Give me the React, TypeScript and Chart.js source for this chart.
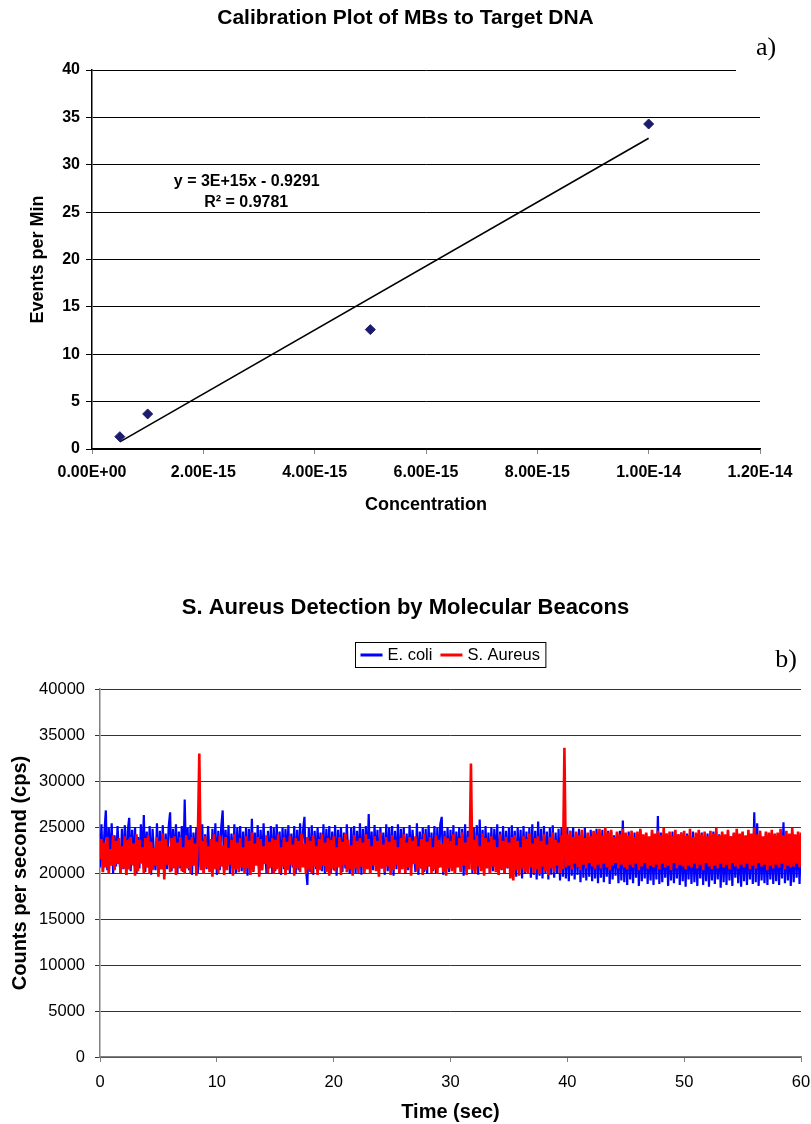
import React, { useEffect, useRef } from "react";
import { Chart, registerables } from "chart.js";

Chart.register(...registerables);

// ---------- Chart a) Calibration plot ----------
const CONCENTRATION = [5e-16, 1e-15, 5e-15, 1e-14];
const EVENTS_PER_MIN = [1.3, 3.7, 12.6, 34.3];
const TREND_X = [5e-16, 1e-14];
const TREND_Y = [0.75, 32.8];
const CONC_TICK_LABELS = ["0.00E+00", "2.00E-15", "4.00E-15", "6.00E-15", "8.00E-15", "1.00E-14", "1.20E-14"];
const TREND_EQUATION = "y = 3E+15x - 0.9291";
const TREND_R2 = "R\u00B2 = 0.9781";

// ---------- Chart b) Detection time trace ----------
const SAMPLE_INTERVAL_SEC = 0.125;
const SERIES_NAMES = ["E. coli", "S. Aureus"];
const E_COLI = [
  20600, 25300, 20100, 24400, 26800, 20300, 24900, 21200, 25400, 19900, 24100, 20700, 25100, 22300, 20000, 24800, 20400, 25200, 19800, 24600,
  26000, 20200, 24700, 20800, 25000, 19900, 23900, 20500, 25300, 21000, 26300, 20100, 24500, 20600, 25100, 19800, 24800, 22100, 20300, 25400,
  20000, 24600, 20700, 25200, 19700, 24300, 20400, 25000, 26600, 20200, 24800, 21100, 25300, 19900, 24500, 20500, 25100, 20100, 28000, 20600,
  24900, 20300, 25200, 19800, 24400, 21000, 25000, 20000, 24700, 20600, 25300, 19900, 24200, 20400, 25100, 22000, 20200, 24800, 20700, 25400,
  19800, 24600, 20300, 25000, 26800, 20100, 24700, 20800, 25200, 19900, 24300, 20500, 25300, 20000, 24900, 21200, 25100, 20200, 24500, 20600,
  25000, 19700, 24800, 20400, 25900, 20100, 24400, 20900, 25200, 19800, 24700, 20300, 25400, 22200, 20000, 24600, 20500, 25100, 19900, 24900,
  20200, 25300, 20700, 24500, 19800, 25000, 20400, 24800, 21100, 25200, 20000, 24300, 20600, 25100, 19900, 24700, 20300, 25400, 20800, 24600,
  26100, 20500, 18700, 24900, 20100, 25200, 19800, 24600, 20400, 25000, 21000, 24400, 20200, 25300, 19900, 24800, 20600, 25100, 20000, 24500,
  20300, 25200, 19700, 24700, 20800, 25000, 20100, 24400, 20500, 25300, 22000, 19900, 24900, 20400, 25100, 20000, 24600, 20700, 25400, 19800,
  24800, 20200, 25100, 20600, 26400, 19900, 24500, 20300, 25200, 21100, 24700, 20000, 25000, 20500, 24400, 19800, 25300, 20200, 24900, 20600,
  25100, 19700, 24600, 20400, 25300, 20000, 24800, 20900, 25000, 19900, 24300, 20300, 25200, 20600, 24700, 22100, 20100, 25400, 19800, 24500,
  20500, 25000, 20100, 24800, 19900, 25200, 20700, 24400, 20200, 25100, 20000, 24900, 20600, 25300, 26100, 19800, 24600, 20300, 25000, 20100,
  24700, 20500, 25200, 19900, 24500, 20800, 25000, 20200, 24800, 19700, 25300, 20400, 24600, 21000, 25100, 20000, 24900, 20300, 25200, 19800,
  25800, 20400, 24700, 20000, 25100, 20600, 24400, 19900, 25000, 20200, 24800, 20700, 25300, 19800, 24500, 20300, 25100, 20000, 24600, 20500,
  24900, 19500, 25200, 20100, 24600, 19600, 25000, 20300, 24700, 19400, 25100, 19900, 24500, 20200, 24900, 19500, 25300, 19800, 24600, 19300,
  25600, 19700, 24800, 19400, 25100, 20000, 24500, 19300, 24900, 19800, 25200, 19500, 24400, 19900, 24800, 19200, 25000, 19600, 24600, 19400,
  24900, 19100, 24600, 19700, 25000, 19300, 24400, 19800, 24800, 19000, 24500, 19500, 24900, 19200, 24300, 19600, 24700, 19100, 24500, 19400,
  24800, 18900, 24400, 19500, 24700, 19000, 24200, 19600, 24600, 18800, 24500, 19300, 24100, 19700, 24400, 18900, 24600, 19200, 25700, 19000,
  24300, 18700, 24500, 19300, 23900, 18900, 24400, 19500, 24100, 18600, 24600, 19100, 24000, 19400, 24300, 18800, 23800, 19200, 24500, 18700,
  24200, 19300, 26200, 18800, 24400, 19000, 23900, 19500, 24300, 18600, 24100, 19200, 24500, 18900, 23800, 19400, 24200, 18700, 24400, 19100,
  23900, 18500, 24300, 19300, 24000, 18800, 24500, 19000, 23800, 18600, 24200, 19400, 24400, 18700, 23900, 19100, 24300, 18500, 24100, 19200,
  24500, 18800, 23800, 19300, 24200, 18400, 24400, 19000, 23900, 18700, 24600, 19200, 24000, 18600, 24300, 19500, 23800, 18900, 24200, 18500,
  24400, 19100, 24000, 18700, 24300, 19300, 23900, 18800, 26600, 19000, 25400, 18600, 24200, 19200, 23800, 18900, 24400, 18700, 24100, 19300,
  23900, 18800, 24300, 19100, 24000, 18700, 24200, 19400, 25500, 18900, 24100, 19200, 23800, 18600, 24400, 19000, 24000, 19500, 24300, 18800,
  24000,
];
const S_AUREUS = [
  21500, 23700, 20100, 23300, 20600, 23900, 19900, 22600, 20800, 24100, 20300, 23500, 21000, 23800, 20000, 22900, 20500, 24000, 19800, 23600,
  20400, 23900, 20900, 23200, 19700, 24200, 20200, 23600, 21100, 22800, 20000, 23800, 20600, 24100, 19900, 23400, 20300, 22700, 20800, 23900,
  19600, 23500, 20400, 24300, 19300, 23700, 20900, 22900, 20100, 23800, 20500, 24000, 19800, 23300, 20700, 23900, 20200, 22800, 19900, 24100,
  20500, 23600, 20000, 23900, 20800, 23200, 19700, 23800, 33000, 20300, 23500, 19900, 24000, 20600, 22900, 20100, 23700, 19600, 24200, 20400,
  23400, 20000, 24100, 20700, 23000, 19800, 23900, 20300, 22700, 20900, 23600, 19700, 24200, 20400, 23300, 20100, 23800, 20600, 22800, 19900,
  24000, 20500, 23500, 19800, 24400, 20200, 23200, 20800, 23900, 19600, 23700, 20300, 22900, 21000, 24100, 20000, 23400, 20600, 23800, 19900,
  23600, 20400, 24200, 20000, 22800, 20700, 23900, 19800, 23400, 20300, 24000, 20900, 23100, 19700, 23800, 20500, 23500, 20100, 24300, 20600,
  23200, 19900, 23900, 20400, 23500, 20000, 24100, 20700, 22900, 19800, 23700, 20300, 24200, 20800, 23300, 20100, 23800, 19700, 23600, 20500,
  24000, 20200, 22800, 20600, 23900, 19800, 23400, 20900, 24300, 20100, 23600, 20400, 23000, 19700, 24100, 20500, 23500, 20000, 23800, 20700,
  23300, 20000, 24200, 20400, 23700, 19900, 22900, 20800, 24000, 20200, 23500, 19600, 24400, 20500, 23100, 20100, 23900, 20700, 23400, 19800,
  24100, 20300, 23600, 20900, 22800, 19900, 23800, 20400, 24200, 20000, 23300, 20600, 23900, 19700, 23500, 21000, 24000, 20200, 22900, 20500,
  23700, 19800, 24300, 20300, 23400, 20700, 23900, 20000, 22800, 20400, 24100, 19900, 23600, 20600, 23200, 20100, 24000, 19700, 23800, 20500,
  23500, 20200, 24200, 19900, 23000, 20600, 23800, 20100, 24400, 20800, 23300, 19800, 23900, 20400, 31900, 20300, 23600, 20000, 24100, 20700,
  22900, 20200, 24300, 19700, 23800, 20500, 23400, 19900, 24000, 20700, 23600, 20100, 22800, 19800, 24200, 20400, 23500, 20000, 23900, 20600,
  23300, 19400, 23900, 19200, 24100, 20300, 23500, 19700, 22800, 20500, 24000, 20100, 23700, 19900, 24300, 20600, 23200, 20000, 23800, 20400,
  24000, 19900, 23500, 20700, 24200, 20200, 23100, 19800, 23900, 20500, 24400, 20100, 23600, 20800, 23300, 20000, 24100, 20400, 33600, 20600,
  24200, 20800, 24600, 20400, 23900, 21000, 24500, 20600, 24100, 20300, 24700, 20900, 23800, 20500, 24400, 21100, 24000, 20700, 24600, 20400,
  24300, 20900, 24800, 20500, 24100, 21000, 25000, 20600, 24400, 20300, 24700, 20800, 23900, 21100, 24500, 20500, 24200, 20900, 24800, 20600,
  24400, 20400, 24100, 20900, 24600, 20600, 23900, 21000, 24500, 20300, 24800, 20700, 24200, 21100, 24400, 20500, 24000, 20800, 24700, 20600,
  24300, 20900, 24600, 20400, 24100, 21000, 24900, 20600, 24300, 20800, 24500, 20300, 24000, 21100, 24700, 20500, 24200, 20900, 24400, 20700,
  24600, 20400, 24100, 20800, 24800, 20600, 23900, 21000, 24400, 20500, 24700, 20900, 24200, 20300, 24500, 21100, 24000, 20700, 24600, 20400,
  24300, 20800, 24900, 20500, 24100, 21000, 24500, 20600, 24200, 20900, 24700, 20400, 24000, 21100, 24400, 20700, 24800, 20500, 24300, 20900,
  24500, 20600, 24100, 21000, 24700, 20400, 24300, 20800, 24900, 20500, 24200, 21100, 24600, 20700, 24000, 20900, 24500, 20300, 24400, 20800,
  24700, 20500, 24200, 20900, 24400, 20600, 24800, 21000, 24100, 20400, 24600, 20800, 24300, 20600, 24900, 20700, 24200, 21000, 24500, 20600,
  24400,
];
const SERIES_COLORS = ["#0000FF", "#FF0000"];

const SANS = '"Liberation Sans", Arial, Helvetica, sans-serif';
const SERIF = '"Liberation Serif", "Times New Roman", serif';

const toPoints = (vals: number[]) =>
  vals.map((v, i) => ({ x: i * SAMPLE_INTERVAL_SEC, y: v }));

const annotA = {
  id: "annotA",
  afterDraw(chart: any) {
    const { ctx, scales } = chart;
    const x = scales.x;
    const y = scales.y;
    ctx.save();
    ctx.fillStyle = "#ffffff";
    ctx.fillRect(736, 66, 30, 8);
    ctx.fillStyle = "#000";
    ctx.font = `26px ${SERIF}`;
    ctx.textAlign = "center";
    ctx.textBaseline = "middle";
    ctx.fillText("a)", 766, 48);
    ctx.font = `bold 16px ${SANS}`;
    ctx.fillText(TREND_EQUATION, x.getPixelForValue(2.78e-15), y.getPixelForValue(28.2));
    ctx.fillText(TREND_R2, x.getPixelForValue(2.77e-15), y.getPixelForValue(25.96));
    ctx.restore();
  },
};

const annotB = {
  id: "annotB",
  afterDraw(chart: any) {
    const { ctx, chartArea } = chart;
    ctx.save();
    ctx.font = `16.5px ${SANS}`;
    const w1 = ctx.measureText(SERIES_NAMES[0]).width;
    const w2 = ctx.measureText(SERIES_NAMES[1]).width;
    const total = 5 + 22 + 5 + w1 + 8 + 22 + 5 + w2 + 6;
    const cx = (chartArea.left + chartArea.right) / 2;
    const left = Math.round(cx - total / 2) + 0.5;
    const top = 82.5;
    const h = 25;
    ctx.fillStyle = "#fff";
    ctx.fillRect(left, top, total, h);
    ctx.strokeStyle = "#000";
    ctx.lineWidth = 1;
    ctx.strokeRect(left, top, total, h);
    const my = top + h / 2;
    let px = left + 5;
    ctx.textAlign = "left";
    ctx.textBaseline = "middle";
    [0, 1].forEach((k) => {
      ctx.strokeStyle = SERIES_COLORS[k];
      ctx.lineWidth = 3;
      ctx.beginPath();
      ctx.moveTo(px, my);
      ctx.lineTo(px + 22, my);
      ctx.stroke();
      px += 27;
      ctx.fillStyle = "#000";
      ctx.fillText(SERIES_NAMES[k], px, my + 0.5);
      px += (k === 0 ? w1 : w2) + 8;
    });
    ctx.font = `26px ${SERIF}`;
    ctx.textAlign = "center";
    ctx.fillText("b)", 786, 100);
    ctx.restore();
  },
};

export default function App() {
  const refA = useRef<HTMLCanvasElement>(null);
  const refB = useRef<HTMLCanvasElement>(null);

  useEffect(() => {
    const chartA = new Chart(refA.current as HTMLCanvasElement, {
      type: "scatter",
      data: {
        datasets: [
          {
            label: "Data",
            data: CONCENTRATION.map((c, i) => ({ x: c, y: EVENTS_PER_MIN[i] })),
            backgroundColor: "#1c1c6e",
            borderColor: "#1c1c6e",
            pointStyle: "rectRot",
            pointRadius: 5,
            order: 0,
          },
          {
            type: "line",
            label: "Linear trend",
            data: TREND_X.map((c, i) => ({ x: c, y: TREND_Y[i] })),
            borderColor: "#000",
            borderWidth: 1.6,
            pointRadius: 0,
            showLine: true,
            order: 1,
          } as any,
        ],
      },
      options: {
        animation: false,
        responsive: false,
        devicePixelRatio: 1,
        layout: { padding: 0 },
        plugins: {
          legend: { display: false },
          tooltip: { enabled: false },
          title: {
            display: true,
            text: "Calibration Plot of MBs to Target DNA",
            color: "#000",
            font: { family: SANS, size: 21, weight: "bold" },
            padding: { top: 6, bottom: 38.8 },
          },
        },
        scales: {
          x: {
            type: "linear",
            min: 0,
            max: 1.2e-14,
            ticks: {
              stepSize: 2e-15,
              color: "#000",
              font: { family: SANS, size: 16, weight: "bold" },
              padding: 9.4,
              maxRotation: 0,
              callback: (_v: any, i: number) => CONC_TICK_LABELS[i] ?? "",
            },
            grid: { drawOnChartArea: false, drawTicks: true, tickLength: 5, color: "#888" },
            border: { color: "#000", width: 1.5 },
            title: {
              display: true,
              text: "Concentration",
              color: "#000",
              font: { family: SANS, size: 18, weight: "bold" },
              padding: { top: 0, bottom: 24.2 },
            },
            afterFit: (s: any) => {
              s.height = 91;
              s.paddingRight = 51;
            },
          },
          y: {
            min: 0,
            max: 40,
            ticks: {
              stepSize: 5,
              color: "#000",
              font: { family: SANS, size: 16, weight: "bold" },
              padding: 6,
            },
            grid: { color: "#000", lineWidth: 1, tickLength: 6 },
            border: { color: "#000", width: 1.5 },
            title: {
              display: true,
              text: "Events per Min",
              color: "#000",
              font: { family: SANS, size: 18, weight: "bold" },
              padding: { top: 27.7, bottom: 0 },
            },
            afterFit: (s: any) => {
              s.width = 92;
            },
          },
        },
      },
      plugins: [annotA],
    } as any);

    const chartB = new Chart(refB.current as HTMLCanvasElement, {
      type: "line",
      data: {
        datasets: [
          {
            label: SERIES_NAMES[0],
            data: toPoints(E_COLI),
            borderColor: SERIES_COLORS[0],
            backgroundColor: SERIES_COLORS[0],
            borderWidth: 2.2,
            borderJoinStyle: "bevel",
            pointRadius: 0,
            tension: 0,
            order: 1,
          },
          {
            label: SERIES_NAMES[1],
            data: toPoints(S_AUREUS),
            borderColor: SERIES_COLORS[1],
            backgroundColor: SERIES_COLORS[1],
            borderWidth: 2.6,
            borderJoinStyle: "bevel",
            pointRadius: 0,
            tension: 0,
            order: 0,
          },
        ],
      },
      options: {
        animation: false,
        responsive: false,
        devicePixelRatio: 1,
        parsing: false,
        normalized: true,
        layout: { padding: 0 },
        plugins: {
          legend: { display: false },
          tooltip: { enabled: false },
          title: {
            display: true,
            text: "S. Aureus Detection by Molecular Beacons",
            color: "#000",
            font: { family: SANS, size: 22, weight: "bold" },
            padding: { top: 34.8, bottom: 67.8 },
          },
        },
        scales: {
          x: {
            type: "linear",
            min: 0,
            max: 60,
            ticks: {
              stepSize: 10,
              color: "#000",
              font: { family: SANS, size: 16.5 },
              padding: 11,
              maxRotation: 0,
            },
            grid: { drawOnChartArea: false, drawTicks: true, tickLength: 5, color: "#808080" },
            border: { color: "#808080", width: 1.5 },
            title: {
              display: true,
              text: "Time (sec)",
              color: "#000",
              font: { family: SANS, size: 20, weight: "bold" },
              padding: { top: 0, bottom: 0 },
            },
            afterFit: (s: any) => {
              s.height = 67;
              s.paddingRight = 10;
            },
          },
          y: {
            min: 0,
            max: 40000,
            ticks: {
              stepSize: 5000,
              color: "#000",
              font: { family: SANS, size: 16.5 },
              padding: 10,
              callback: (v: any) => String(v),
            },
            grid: { color: "#333", lineWidth: 1, tickLength: 5 },
            border: { color: "#808080", width: 1.5 },
            title: {
              display: true,
              text: "Counts per second (cps)",
              color: "#000",
              font: { family: SANS, size: 20, weight: "bold" },
              padding: { top: 8, bottom: 0 },
            },
            afterFit: (s: any) => {
              s.width = 100;
            },
          },
        },
      },
      plugins: [annotB],
    } as any);

    return () => {
      chartA.destroy();
      chartB.destroy();
    };
  }, []);

  return (
    <div style={{ position: "absolute", left: 0, top: 0, width: 811, height: 1124, background: "#fff" }}>
      <canvas ref={refA} width={811} height={540} style={{ position: "absolute", left: 0, top: 0 }} />
      <canvas ref={refB} width={811} height={564} style={{ position: "absolute", left: 0, top: 560 }} />
    </div>
  );
}
